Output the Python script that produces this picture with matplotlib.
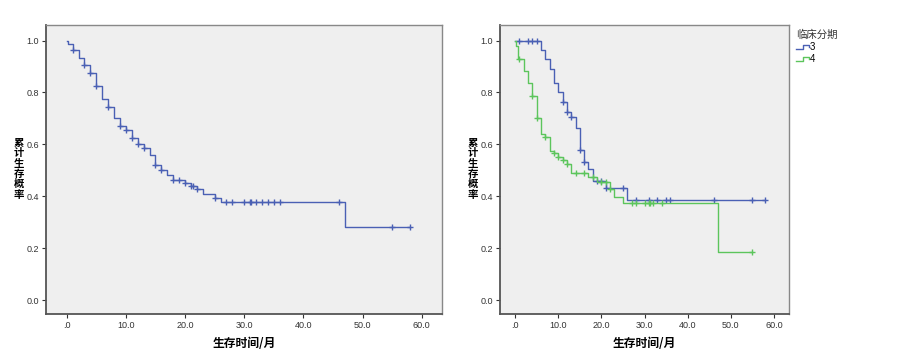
import numpy as np
import matplotlib
matplotlib.use('Agg')
import matplotlib.pyplot as plt
from matplotlib.lines import Line2D
from matplotlib.legend_handler import HandlerBase

plt.rcParams['font.family'] = ['Liberation Sans', 'Noto Sans CJK SC', 'DejaVu Sans']

# overall survival (left)
all_t = [0, 0.3, 1, 2, 3, 4, 5, 6, 7, 8, 9, 10, 11, 12, 13, 14, 15, 16, 17, 18, 20, 21, 22, 23, 25, 26, 47]
all_s = [1.0, 0.987, 0.962, 0.932, 0.904, 0.874, 0.826, 0.773, 0.745, 0.703, 0.672, 0.654, 0.626, 0.603,
         0.587, 0.559, 0.522, 0.503, 0.481, 0.462, 0.451, 0.440, 0.426, 0.410, 0.395, 0.377, 0.282]
all_end = 58
all_cens = [1, 3, 4, 5, 7, 9, 10, 11, 12, 13, 15, 16, 18, 19, 20, 21, 21.3, 22, 25, 27, 28, 30, 31, 31.2,
            32, 33, 34, 35, 36, 46, 55, 58]

# stage 3 (right, blue)
s3_t = [0, 6, 7, 8, 9, 10, 11, 12, 13, 14, 15, 16, 17, 18, 21, 26]
s3_s = [1.0, 0.964, 0.928, 0.891, 0.838, 0.800, 0.764, 0.726, 0.705, 0.663, 0.577, 0.532, 0.506, 0.459,
        0.430, 0.387]
s3_end = 58
s3_cens = [1, 3, 4, 5, 11, 12, 13, 15, 16, 19, 20, 21, 25, 28, 31, 33, 35, 36, 46, 55, 58]

# stage 4 (right, green)
s4_t = [0, 0.3, 0.6, 2, 3, 4, 5, 6, 7, 8, 9, 10, 11, 12, 13, 17, 19, 22, 23, 25, 47]
s4_s = [1.0, 0.978, 0.929, 0.882, 0.836, 0.787, 0.703, 0.641, 0.628, 0.574, 0.565, 0.553, 0.540, 0.523,
        0.491, 0.474, 0.455, 0.428, 0.398, 0.372, 0.186]
s4_end = 55
s4_cens = [1, 4, 5, 7, 9, 10, 11, 12, 14, 16, 18, 20, 21, 22, 27, 28, 30, 31, 31.2, 32, 34, 55]

stage_labels = ['3', '4']
x_ticks = [0, 10, 20, 30, 40, 50, 60]
x_ticklabels = ['.0', '10.0', '20.0', '30.0', '40.0', '50.0', '60.0']
y_ticks = [0.0, 0.2, 0.4, 0.6, 0.8, 1.0]

BLUE = '#4a60b4'
GREEN = '#5cc55c'
CJK = ['Noto Sans CJK SC', 'DejaVu Sans']


def surv_at(times, surv, t):
    idx = np.searchsorted(times, t, side='right') - 1
    return np.asarray(surv)[idx]


def km_curve(ax, times, surv, end, cens, color):
    tt = list(times) + [end]
    ss = list(surv) + [surv[-1]]
    line, = ax.step(tt, ss, where='post', color=color, lw=1.0)
    ax.plot(cens, surv_at(times, surv, cens), ls='none', marker='+', ms=4.5, mew=1.0, color=color)
    return line


def style_axes(ax):
    ax.set_facecolor('#efefef')
    ax.set_xlim(-3.5, 63.4)
    ax.set_ylim(-0.054, 1.06)
    ax.set_xticks(x_ticks)
    ax.set_xticklabels(x_ticklabels)
    ax.set_yticks(y_ticks)
    ax.set_yticklabels([f'{v:.1f}' for v in y_ticks])
    ax.tick_params(axis='both', labelsize=6.5, length=3, width=0.8, pad=2, colors='#333333')
    for side in ['left', 'bottom']:
        ax.spines[side].set_color('#555555')
        ax.spines[side].set_linewidth(1.3)
    for side in ['top', 'right']:
        ax.spines[side].set_color('#888888')
        ax.spines[side].set_linewidth(1.0)
    ax.set_xlabel('生存时间/月', family=CJK, fontsize=8.5, fontweight='bold', labelpad=5)


class StepHandler(HandlerBase):
    def create_artists(self, legend, orig_handle, xdescent, ydescent, width, height, fontsize, trans):
        x0 = -xdescent
        y0 = -ydescent
        xs = [x0, x0 + width * 0.55, x0 + width * 0.55, x0 + width, x0 + width]
        ys = [y0 + height * 0.15, y0 + height * 0.15, y0 + height * 0.75, y0 + height * 0.75, y0 + height * 0.45]
        ln = Line2D(xs, ys, color=orig_handle.get_color(), lw=1.0, transform=trans)
        return [ln]


fig = plt.figure(figsize=(9.03, 3.59), dpi=100)
ax1 = fig.add_axes([0.0509, 0.1253, 0.4385, 0.8051])
ax2 = fig.add_axes([0.5537, 0.1253, 0.3197, 0.8051])

km_curve(ax1, all_t, all_s, all_end, all_cens, BLUE)
h3 = km_curve(ax2, s3_t, s3_s, s3_end, s3_cens, BLUE)
h4 = km_curve(ax2, s4_t, s4_s, s4_end, s4_cens, GREEN)

for ax, xpos in [(ax1, 19 / 903), (ax2, 473 / 903)]:
    style_axes(ax)
    fig.text(xpos, 0.53, '\n'.join('累计生存概率'), family=CJK, fontsize=7.5, fontweight='bold',
             ha='center', va='center', linespacing=1.05)

leg = fig.legend([h3, h4], stage_labels, title='临床分期', loc='upper left',
                 bbox_to_anchor=(0.876, 0.93), frameon=False, fontsize=7, title_fontsize=7.5,
                 handlelength=1.3, handletextpad=0.1, labelspacing=0.2, borderpad=0,
                 alignment='left', handler_map={Line2D: StepHandler()})
leg.get_title().set_family(CJK)
leg.get_title().set_color('#333333')

fig.savefig('out.png', dpi=100)
